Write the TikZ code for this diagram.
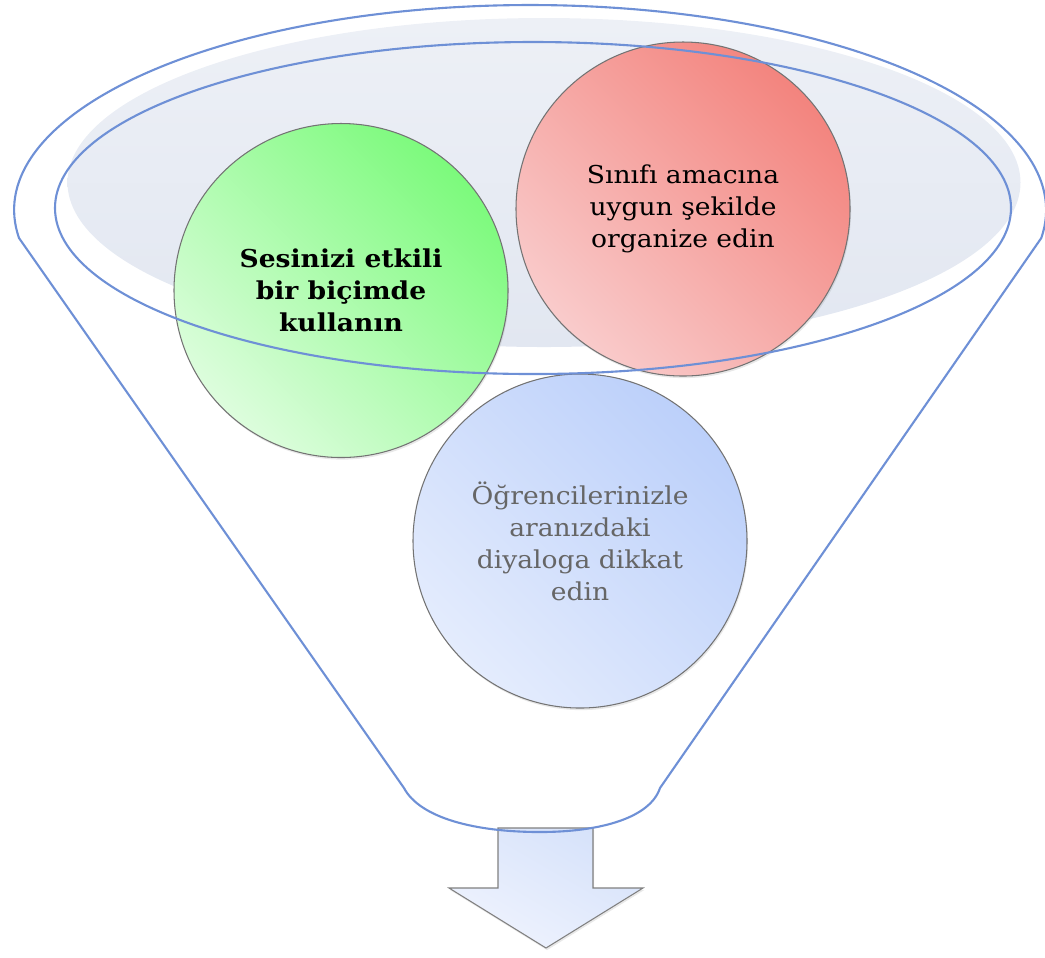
\documentclass[tikz,border=0pt]{standalone}
\usepackage{fontspec}
\setmainfont[FakeStretch=1.08]{DejaVu Serif}
\usetikzlibrary{shadows}

\definecolor{funnelline}{HTML}{6E90D6}
\definecolor{bowlfill}{HTML}{E2E7F1}
\definecolor{bowltop}{HTML}{EDF0F6}
\definecolor{greendark}{HTML}{7CFA7C}
\definecolor{greenlight}{HTML}{DDFDDD}
\definecolor{reddark}{HTML}{F3847E}
\definecolor{redlight}{HTML}{F9CBCB}
\definecolor{bluedark}{HTML}{BCD0FA}
\definecolor{bluelight}{HTML}{E4ECFD}
\definecolor{arrowdark}{HTML}{D6E2FA}
\definecolor{arrowlight}{HTML}{EFF3FE}
\definecolor{textgrey}{HTML}{666666}

\begin{document}
\begin{tikzpicture}[scale=1,font=\fontsize{7}{9.1}\selectfont,
  funnel/.style={draw=funnelline,line width=0.6pt},
  bubble/.style 2 args={circle,minimum size=3.34cm,inner sep=0pt,align=center,
    draw=black!55,line width=0.3pt,top color=#1,bottom color=#2,shading angle=-45,
    drop shadow={opacity=0.18,shadow xshift=0.3pt,shadow yshift=-0.6pt}},
  boldtext/.style={font=\fontsize{7}{9.1}\selectfont\bfseries}]

\useasboundingbox (0,0) rectangle (10.45,-9.57);

\begin{scope}
\coordinate (bowl) at (5.44,-1.825);
\coordinate (rim) at (5.33,-2.08);
\coordinate (lc) at (0.19,-2.38);
\coordinate (rc) at (10.41,-2.38);
\coordinate (lb) at (4.04,-7.88);
\coordinate (rb) at (6.60,-7.88);
\coordinate (bottom) at (5.40,-8.32);

\shade[top color=bowltop,bottom color=bowlfill] (bowl) ellipse[x radius=4.765,y radius=1.645];

\node[bubble={greendark}{greenlight},boldtext] (voice) at (3.41,-2.905) {Sesinizi etkili\\bir biçimde\\kullanın};
\node[bubble={reddark}{redlight}] (class) at (6.83,-2.09) {Sınıfı amacına\\uygun şekilde\\organize edin};
\node[bubble={bluedark}{bluelight},text=textgrey] (talk) at (5.80,-5.41) {Öğrencilerinizle\\aranızdaki\\diyaloga dikkat\\edin};

\coordinate (s1) at (4.98,-8.28);
\coordinate (s2) at (5.93,-8.28);
\coordinate (s3) at (5.93,-8.88);
\coordinate (h1) at (6.43,-8.88);
\coordinate (tip) at (5.46,-9.48);
\coordinate (h2) at (4.49,-8.88);
\coordinate (s4) at (4.98,-8.88);
\draw[draw=black!50,line width=0.3pt,top color=arrowdark,bottom color=arrowlight,shading angle=-30,
  drop shadow={opacity=0.18,shadow xshift=0.3pt,shadow yshift=-0.6pt}]
  (s1) -- (s2) -- (s3) -- (h1) -- (tip) -- (h2) -- (s4) -- cycle;

\draw[funnel] (lc) arc[start angle=187.85,end angle=-7.85,x radius=5.16,y radius=2.05]
  -- (rb) .. controls (6.50,-8.18) and (6.00,-8.32) .. (bottom)
  .. controls (4.75,-8.32) and (4.20,-8.18) .. (lb) -- cycle;
\draw[funnel] (rim) ellipse[x radius=4.78,y radius=1.66];
\end{scope}

\end{tikzpicture}
\end{document}
